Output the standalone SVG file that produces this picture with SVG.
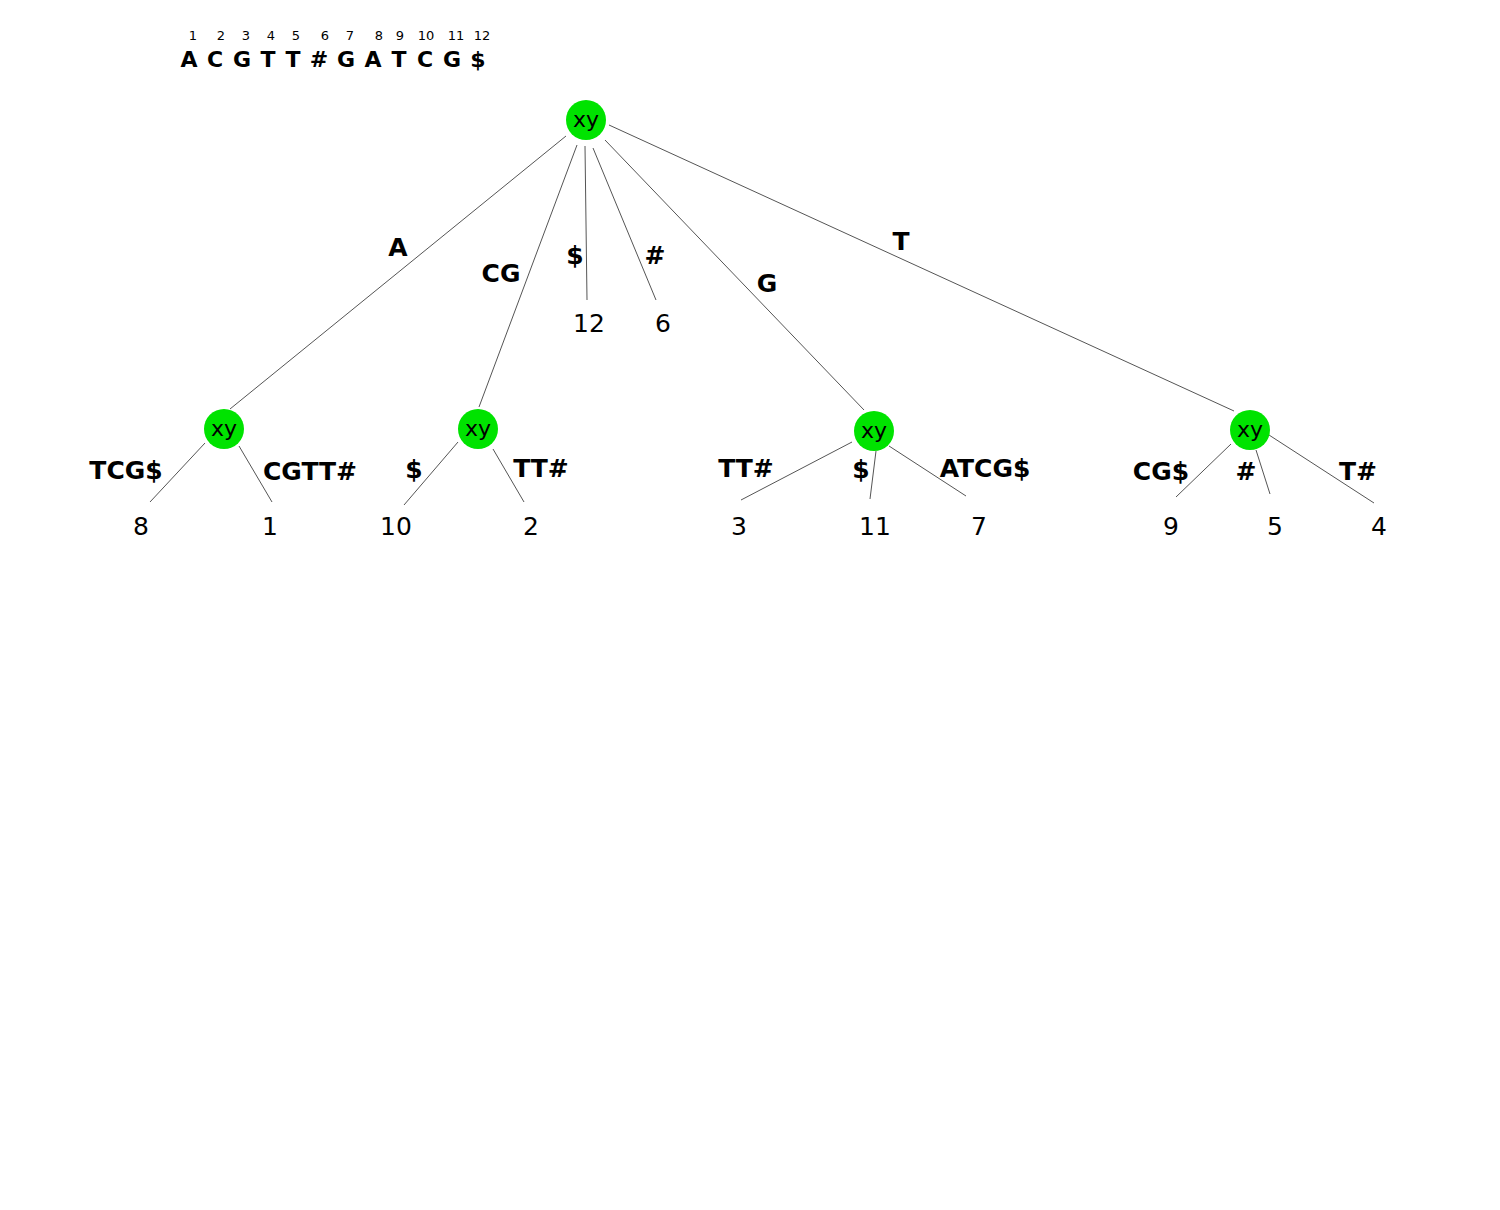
<svg xmlns="http://www.w3.org/2000/svg" width="1500" height="1210" viewBox="0 0 1500 1210">
  <style>
    .bg { fill: #ffffff; }
    .edge { stroke: #555555; stroke-width: 1; fill: none; }
    .node circle { fill: #00e300; }
    .node text { font-family: "DejaVu Sans", sans-serif; font-size: 22px; fill: #000000; text-anchor: middle; }
    .lbl { font-family: "DejaVu Sans", sans-serif; font-size: 25px; font-weight: bold; fill: #000000; text-anchor: middle; }
    .leaf { font-family: "DejaVu Sans", sans-serif; font-size: 25px; fill: #000000; text-anchor: middle; }
    .seq { font-family: "DejaVu Sans", sans-serif; font-size: 22px; font-weight: bold; fill: #000000; text-anchor: middle; }
    .idx { font-family: "DejaVu Sans", sans-serif; font-size: 13px; fill: #000000; text-anchor: middle; }
  </style>
  <rect class="bg" x="0" y="0" width="1500" height="1210"/>

  <!-- input string with positions -->
  <g id="sequence">
    <text class="idx" x="193" y="40">1</text>
    <text class="idx" x="221" y="40">2</text>
    <text class="idx" x="246" y="40">3</text>
    <text class="idx" x="271" y="40">4</text>
    <text class="idx" x="296" y="40">5</text>
    <text class="idx" x="325" y="40">6</text>
    <text class="idx" x="350" y="40">7</text>
    <text class="idx" x="379" y="40">8</text>
    <text class="idx" x="400" y="40">9</text>
    <text class="idx" x="426" y="40">10</text>
    <text class="idx" x="456" y="40">11</text>
    <text class="idx" x="482" y="40">12</text>
    <text class="seq" x="189" y="67">A</text>
    <text class="seq" x="215" y="67">C</text>
    <text class="seq" x="242" y="67">G</text>
    <text class="seq" x="268" y="67">T</text>
    <text class="seq" x="293" y="67">T</text>
    <text class="seq" x="319" y="67">#</text>
    <text class="seq" x="346" y="67">G</text>
    <text class="seq" x="373" y="67">A</text>
    <text class="seq" x="399" y="67">T</text>
    <text class="seq" x="425" y="67">C</text>
    <text class="seq" x="452" y="67">G</text>
    <text class="seq" x="478" y="67">$</text>
  </g>

  <!-- tree edges -->
  <g id="connectors">
    <line class="edge" x1="566" y1="136" x2="230" y2="409"/>
    <line class="edge" x1="577" y1="145" x2="479" y2="407"/>
    <line class="edge" x1="585" y1="146" x2="587" y2="300"/>
    <line class="edge" x1="593" y1="148" x2="656" y2="300"/>
    <line class="edge" x1="605" y1="140" x2="864" y2="410"/>
    <line class="edge" x1="609" y1="125" x2="1234" y2="411"/>

    <line class="edge" x1="205" y1="443" x2="150" y2="502"/>
    <line class="edge" x1="239" y1="446" x2="272" y2="502"/>

    <line class="edge" x1="458" y1="442" x2="404" y2="505"/>
    <line class="edge" x1="493" y1="449" x2="524" y2="502"/>

    <line class="edge" x1="852" y1="442" x2="741" y2="500"/>
    <line class="edge" x1="876" y1="451" x2="870" y2="499"/>
    <line class="edge" x1="889" y1="446" x2="966" y2="496"/>

    <line class="edge" x1="1231" y1="444" x2="1176" y2="497"/>
    <line class="edge" x1="1256" y1="450" x2="1270" y2="494"/>
    <line class="edge" x1="1269" y1="435" x2="1374" y2="503"/>
  </g>

  <!-- edge labels -->
  <g id="edge-labels">
    <text class="lbl" x="398" y="256">A</text>
    <text class="lbl" x="501" y="282">CG</text>
    <text class="lbl" x="575" y="264">$</text>
    <text class="lbl" x="655" y="264">#</text>
    <text class="lbl" x="767" y="292">G</text>
    <text class="lbl" x="901" y="250">T</text>

    <text class="lbl" x="126" y="479">TCG$</text>
    <text class="lbl" x="310" y="480">CGTT#</text>

    <text class="lbl" x="414" y="478">$</text>
    <text class="lbl" x="541" y="477">TT#</text>

    <text class="lbl" x="746" y="477">TT#</text>
    <text class="lbl" x="861" y="478">$</text>
    <text class="lbl" x="985" y="477">ATCG$</text>

    <text class="lbl" x="1161" y="480">CG$</text>
    <text class="lbl" x="1246" y="480">#</text>
    <text class="lbl" x="1358" y="480">T#</text>
  </g>

  <!-- leaves -->
  <g id="leaves">
    <text class="leaf" id="leaf-12" x="589" y="332">12</text>
    <text class="leaf" id="leaf-6" x="663" y="332">6</text>
    <text class="leaf" id="leaf-8" x="141" y="535">8</text>
    <text class="leaf" id="leaf-1" x="270" y="535">1</text>
    <text class="leaf" id="leaf-10" x="396" y="535">10</text>
    <text class="leaf" id="leaf-2" x="531" y="535">2</text>
    <text class="leaf" id="leaf-3" x="739" y="535">3</text>
    <text class="leaf" id="leaf-11" x="875" y="535">11</text>
    <text class="leaf" id="leaf-7" x="979" y="535">7</text>
    <text class="leaf" id="leaf-9" x="1171" y="535">9</text>
    <text class="leaf" id="leaf-5" x="1275" y="535">5</text>
    <text class="leaf" id="leaf-4" x="1379" y="535">4</text>
  </g>

  <!-- internal nodes -->
  <g id="node-root" class="node">
    <circle cx="586" cy="120" r="20"/>
    <text x="586" y="127">xy</text>
  </g>
  <g id="node-a" class="node">
    <circle cx="224" cy="429" r="20"/>
    <text x="224" y="436">xy</text>
  </g>
  <g id="node-cg" class="node">
    <circle cx="478" cy="429" r="20"/>
    <text x="478" y="436">xy</text>
  </g>
  <g id="node-g" class="node">
    <circle cx="874" cy="431" r="20"/>
    <text x="874" y="438">xy</text>
  </g>
  <g id="node-t" class="node">
    <circle cx="1250" cy="430" r="20"/>
    <text x="1250" y="437">xy</text>
  </g>
</svg>
